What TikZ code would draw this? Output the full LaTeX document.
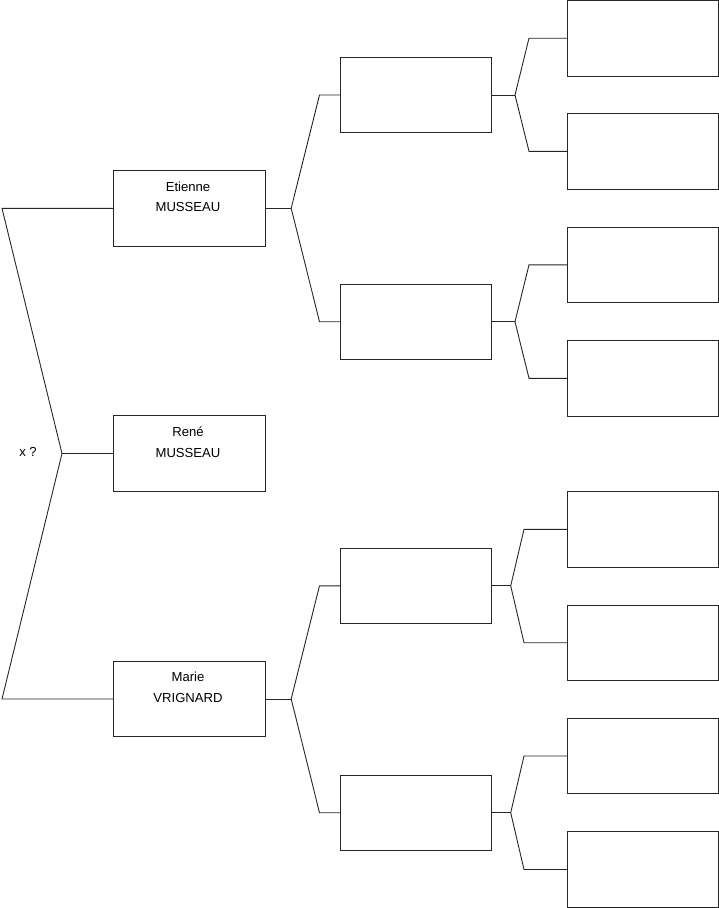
\documentclass[tikz,border=0pt]{standalone}
\usepackage{fontspec}
\setmainfont{Liberation Sans}
\begin{document}
\begin{tikzpicture}[x=1pt,y=-1pt,
  box/.style={draw=black!85, line width=0.9pt, minimum width=151.4pt, minimum height=75.5pt, inner sep=0pt, outer sep=0pt},
  conn/.style={draw=black!85, line width=0.9pt},
  lbl/.style={font=\fontsize{13.1}{15}\selectfont, anchor=base, inner sep=0pt}]
\useasboundingbox (0,0) rectangle (719,908);
% generation 1
\node[box] (g1a) at (189.5,208.3) {};
\node[box] (g1b) at (189.5,453.5) {};
\node[box] (g1c) at (189.5,699) {};
% generation 2
\node[box] (g2a) at (416,95) {};
\node[box] (g2b) at (416,321.7) {};
\node[box] (g2c) at (416,585.8) {};
\node[box] (g2d) at (416,812.7) {};
% generation 3
\node[box] (g3a) at (642.7,38.2) {};
\node[box] (g3b) at (642.7,151.3) {};
\node[box] (g3c) at (642.7,264.8) {};
\node[box] (g3d) at (642.7,378.3) {};
\node[box] (g3e) at (642.7,529.3) {};
\node[box] (g3f) at (642.7,642.7) {};
\node[box] (g3g) at (642.7,756) {};
\node[box] (g3h) at (642.7,869.5) {};
% texts
\node[lbl] (t1a) at ([xshift=-1.5pt,yshift=-20.7pt]g1a.north) {Etienne};
\node[lbl] (t1b) at ([xshift=-1.5pt,yshift=-41.3pt]g1a.north) {MUSSEAU};
\node[lbl] (t2a) at ([xshift=-1.5pt,yshift=-20.7pt]g1b.north) {René};
\node[lbl] (t2b) at ([xshift=-1.5pt,yshift=-41.8pt]g1b.north) {MUSSEAU};
\node[lbl] (t3a) at ([xshift=-1.5pt,yshift=-20.7pt]g1c.north) {Marie};
\node[lbl] (t3b) at ([xshift=-1.5pt,yshift=-41.3pt]g1c.north) {VRIGNARD};
\node[lbl] (xq) at (28,456) {x ?};
% left bracket
\coordinate (L1) at (2,208.3);
\coordinate (Lm) at (62,453.5);
\coordinate (L3) at (2,699);
\draw[conn] (g1a.west) -- (L1) -- (Lm) -- (L3) -- (g1c.west);
\draw[conn] (Lm) -- (g1b.west);
% gen1 -> gen2
\coordinate (ja) at ([xshift=26pt]g1a.east);
\draw[conn] (g1a.east) -- (ja);
\draw[conn] (ja) -- ([xshift=-20.8pt]g2a.west) -- (g2a.west);
\draw[conn] (ja) -- ([xshift=-20.8pt]g2b.west) -- (g2b.west);
\coordinate (jc) at ([xshift=26pt]g1c.east);
\draw[conn] (g1c.east) -- (jc);
\draw[conn] (jc) -- ([xshift=-20.8pt]g2c.west) -- (g2c.west);
\draw[conn] (jc) -- ([xshift=-20.8pt]g2d.west) -- (g2d.west);
% gen2 -> gen3
\coordinate (ka) at ([xshift=23.3pt]g2a.east);
\draw[conn] (g2a.east) -- (ka);
\draw[conn] (ka) -- ([xshift=-38pt]g3a.west) -- (g3a.west);
\draw[conn] (ka) -- ([xshift=-38pt]g3b.west) -- (g3b.west);
\coordinate (kb) at ([xshift=23.3pt]g2b.east);
\draw[conn] (g2b.east) -- (kb);
\draw[conn] (kb) -- ([xshift=-38pt]g3c.west) -- (g3c.west);
\draw[conn] (kb) -- ([xshift=-38pt]g3d.west) -- (g3d.west);
\coordinate (kc) at ([xshift=19pt]g2c.east);
\draw[conn] (g2c.east) -- (kc);
\draw[conn] (kc) -- ([xshift=-43pt]g3e.west) -- (g3e.west);
\draw[conn] (kc) -- ([xshift=-43pt]g3f.west) -- (g3f.west);
\coordinate (kd) at ([xshift=19pt]g2d.east);
\draw[conn] (g2d.east) -- (kd);
\draw[conn] (kd) -- ([xshift=-43pt]g3g.west) -- (g3g.west);
\draw[conn] (kd) -- ([xshift=-43pt]g3h.west) -- (g3h.west);
\end{tikzpicture}
\end{document}
